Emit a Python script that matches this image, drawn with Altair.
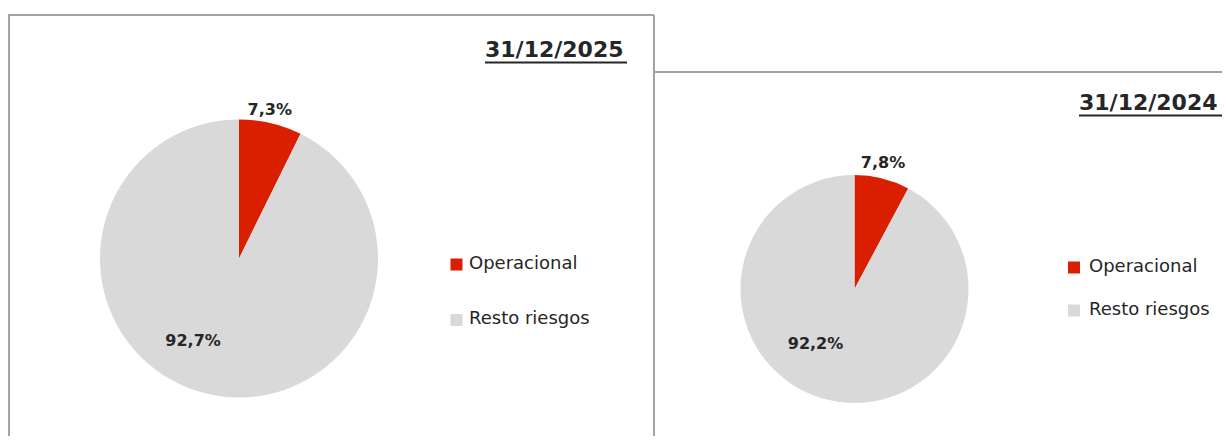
import altair as alt
import pandas as pd

# ---- data ----
fechas = ["31/12/2025", "31/12/2024"]
categorias = ["Operacional", "Resto riesgos"]
valores_2025 = [7.3, 92.7]
valores_2024 = [7.8, 92.2]
colores = ["#d91f00", "#d9d9d9"]

rows = []
for fecha, vals in zip(fechas, [valores_2025, valores_2024]):
    for i, (c, v) in enumerate(zip(categorias, vals)):
        rows.append({"fecha": fecha, "categoria": c, "valor": v, "orden": i,
                     "etiqueta": f"{v:.1f}".replace(".", ",") + "%"})
df = pd.DataFrame(rows)
leg_df = pd.DataFrame({"categoria": categorias})
tit_df = pd.DataFrame({"fecha": fechas})

W, H = 1214, 428
BORDER = "#a3a3a3"
TXT = "#262626"

color = alt.Color("categoria:N", scale=alt.Scale(domain=categorias, range=colores), legend=None)
tscale = alt.Scale(domain=[0, 100])

panels = [
    dict(fecha=fechas[0], cx=231, cy=250.5, r=139,
         out_r=153, out_dx=-4, out_dy=0, in_r=92, in_dx=-25, in_dy=-7,
         tx=477, ty=49, ux2=619, lx=448.5, ly=[256.5, 312], ltx=461),
    dict(fecha=fechas[1], cx=846.5, cy=281, r=114,
         out_r=130, out_dx=-3, out_dy=0, in_r=70, in_dx=-22, in_dy=-13,
         tx=1071, ty=102, ux2=W, lx=1066, ly=[259.5, 302.5], ltx=1081),
]

layers = []
for p in panels:
    base = (alt.Chart(df)
            .transform_filter(alt.datum.fecha == p["fecha"])
            .transform_stack(stack="valor", as_=["v0", "v1"], groupby=["fecha"],
                             sort=[alt.SortField("orden", order="ascending")])
            .transform_calculate(mid="(datum.v0 + datum.v1) / 2"))
    pie = base.mark_arc(radius=p["r"]).encode(
        theta=alt.Theta("v0:Q", scale=tscale),
        theta2="v1:Q",
        color=color,
        x=alt.value(p["cx"]), y=alt.value(p["cy"]),
    )
    lab_out = base.transform_filter(alt.datum.orden == 0).mark_text(
        radius=p["out_r"], dx=p["out_dx"], dy=p["out_dy"], font="DejaVu Sans",
        fontWeight="bold", fontSize=16, color=TXT, baseline="middle", align="center",
    ).encode(theta=alt.Theta("mid:Q", scale=tscale), text="etiqueta:N",
             x=alt.value(p["cx"]), y=alt.value(p["cy"]))
    lab_in = base.transform_filter(alt.datum.orden == 1).mark_text(
        radius=p["in_r"], dx=p["in_dx"], dy=p["in_dy"], font="DejaVu Sans",
        fontWeight="bold", fontSize=16, color=TXT, baseline="middle", align="center",
    ).encode(theta=alt.Theta("mid:Q", scale=tscale), text="etiqueta:N",
             x=alt.value(p["cx"]), y=alt.value(p["cy"]))

    title = alt.Chart(tit_df).transform_filter(alt.datum.fecha == p["fecha"]).mark_text(
        font="DejaVu Sans", fontWeight="bold", fontSize=22, color=TXT,
        align="left", baseline="alphabetic",
    ).encode(text="fecha:N", x=alt.value(p["tx"]), y=alt.value(p["ty"]))
    underline = alt.Chart(tit_df).transform_filter(alt.datum.fecha == p["fecha"]).mark_rule(
        color=TXT, strokeWidth=2,
    ).encode(x=alt.value(p["tx"]), x2=alt.value(p["ux2"]),
             y=alt.value(p["ty"] + 5.5))

    yleg = alt.Y("categoria:N", axis=None,
                 scale=alt.Scale(domain=categorias, range=p["ly"], padding=0))
    sq = alt.Chart(leg_df).mark_square(size=144, opacity=1).encode(
        x=alt.value(p["lx"]), y=yleg, color=color)
    sqt = alt.Chart(leg_df).mark_text(
        font="DejaVu Sans", fontSize=18, color=TXT, align="left", baseline="middle", dy=-1,
    ).encode(x=alt.value(p["ltx"]), y=yleg, text="categoria:N")

    layers += [pie, lab_out, lab_in, title, underline, sq, sqt]

# panel frames (decoration)
frame_df = pd.DataFrame({"k": [0]})
frames = [
    alt.Chart(frame_df).mark_rule(color=BORDER, strokeWidth=2).encode(
        x=alt.value(1), y=alt.value(7), y2=alt.value(H)),
    alt.Chart(frame_df).mark_rule(color=BORDER, strokeWidth=2).encode(
        x=alt.value(0), x2=alt.value(646), y=alt.value(7)),
    alt.Chart(frame_df).mark_rule(color=BORDER, strokeWidth=2).encode(
        x=alt.value(646), y=alt.value(7), y2=alt.value(H)),
    alt.Chart(frame_df).mark_rule(color=BORDER, strokeWidth=2).encode(
        x=alt.value(646), x2=alt.value(W), y=alt.value(64)),
]

chart = (alt.layer(*frames, *layers)
         .resolve_scale(y="independent")
         .properties(width=W, height=H, padding=0,
                     autosize=alt.AutoSizeParams(type="none"),
                     background="white")
         .configure_view(stroke=None))

chart.save("out.html", embed_options={"renderer": "svg", "actions": False})
